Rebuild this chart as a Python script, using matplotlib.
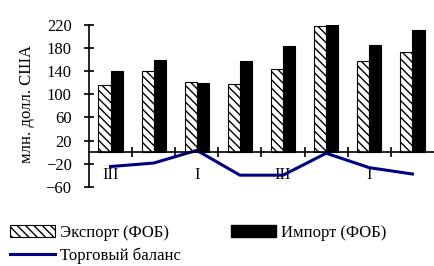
import numpy as np
import matplotlib.pyplot as plt
from matplotlib.patches import Patch
from matplotlib.lines import Line2D

plt.rcParams['font.family'] = 'Liberation Serif'
plt.rcParams['hatch.linewidth'] = 1.0

# данные (млн. долл. США)
quarters = ['III', '', 'I', '', 'III', '', 'I', '']
export = [116, 140, 122, 117, 143, 218, 157, 173]
imports = [141, 160, 119, 157, 183, 220, 185, 212]
balance = [-25, -19, 3, -40, -40, -2, -27, -38]

x = np.arange(len(export))
w = 0.28

fig = plt.figure(figsize=(4.34, 2.66), dpi=100)
ax = fig.add_axes([0.205, 0.298, 0.795, 0.608])

ax.bar(x - w/2, export, w, color='white', edgecolor='black', hatch='\\\\\\\\', linewidth=0.8)
ax.bar(x + w/2, imports, w, color='black', edgecolor='black', linewidth=0.8)
ax.plot(x, balance, color='#000080', linewidth=2.2)

ax.set_xlim(-0.5, 7.5)
ax.set_ylim(-60, 220)
ax.set_yticks(np.arange(-60, 221, 40))
ax.set_xticks(x)
ax.set_xticklabels(quarters)
ax.set_xticks(np.arange(0.5, 7, 1), minor=True)

ax.spines['top'].set_visible(False)
ax.spines['right'].set_visible(False)
ax.spines['bottom'].set_position(('data', 0))
ax.spines['left'].set_linewidth(1.2)
ax.spines['bottom'].set_linewidth(1.2)

ax.tick_params(axis='y', direction='inout', length=7, width=1.2, labelsize=12, pad=9)
ax.tick_params(axis='x', which='major', length=0, labelsize=12, pad=11)
ax.tick_params(axis='x', which='minor', direction='inout', length=7, width=1.2)

ax.set_ylabel('млн. долл. США', fontsize=12)
ax.yaxis.set_label_coords(-0.155, 0.51)

handles = [
    Patch(facecolor='white', edgecolor='black', hatch='\\\\\\\\', linewidth=0.8),
    Line2D([0], [0], color='#000080', linewidth=2.2),
    Patch(facecolor='black', edgecolor='black'),
]
labels = ['Экспорт (ФОБ)', 'Торговый баланс', 'Импорт (ФОБ)']
fig.legend(handles, labels, ncol=2, loc='upper left', bbox_to_anchor=(0.023, 0.155),
           frameon=False, fontsize=12, handlelength=2.7, handletextpad=0.3,
           columnspacing=3.0, labelspacing=0.4, borderpad=0, borderaxespad=0)

fig.savefig('out.png', dpi=100)
